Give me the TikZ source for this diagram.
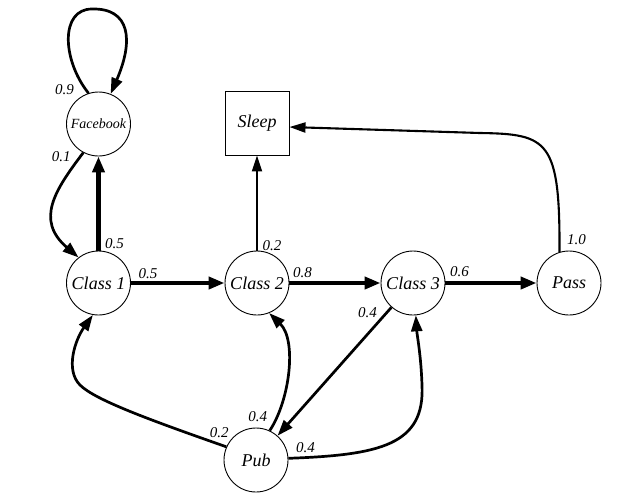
\documentclass[tikz,border=0pt]{standalone}
\usepackage{fontspec}
\setmainfont{Liberation Serif}
\usetikzlibrary{arrows.meta}
\tikzset{
  state/.style={circle, draw, line width=0.9pt, minimum size=64pt, inner sep=0pt, font=\fontsize{18}{20}\selectfont\itshape},
  boxstate/.style={rectangle, draw, line width=0.9pt, minimum width=64pt, minimum height=64pt, inner sep=0pt, font=\fontsize{18}{20}\selectfont\itshape},
  lbl/.style={inner sep=0pt, font=\fontsize{15}{17}\selectfont\itshape},
  thickedge/.style={line width=4.3pt, -{Triangle[length=16pt,width=12pt]}},
  curvedge/.style={line width=2.7pt, -{Triangle[length=16pt,width=11pt]}},
  thinedge/.style={line width=2.1pt, -{Triangle[length=16pt,width=10pt]}},
}
\begin{document}
\begin{tikzpicture}[x=1pt,y=-1pt]
\useasboundingbox (0,0) rectangle (618,499);
\node[state, font=\fontsize{14}{16}\selectfont\itshape] (fb) at (98.5,124) {Facebook};
\node[state] (c1) at (98.5,283) {Class 1};
\node[state] (c2) at (257,283) {Class 2};
\node[state] (c3) at (413,283) {Class 3};
\node[state] (pass) at (569,283) {Pass};
\node[state] (pub) at (256,460) {Pub};
\node[boxstate] (sleep) at (257,123) {Sleep};

% Facebook self loop
\draw[curvedge] (fb.108) node[lbl, shift={(-24,-4)}] {0.9}
  .. controls (62,60) and (60,9) .. (92,9)
  .. controls (130,8) and (134,40) .. (fb.68);
% Facebook -> Class 1
\draw[curvedge] (fb.242) node[lbl, shift={(-22,4)}] {0.1}
  .. controls (55,190) and (35,220) .. (c1.128);
% Class 1 -> Facebook
\draw[thickedge] (c1) -- (fb)
  node[lbl, at start, shift={(16,-7)}] {0.5};
% Class 1 -> Class 2
\draw[thickedge] (c1) -- (c2)
  node[lbl, at start, shift={(17,-9)}] {0.5};
% Class 2 -> Sleep
\draw[thinedge] (c2) -- (sleep)
  node[lbl, at start, shift={(15,-5)}] {0.2};
% Class 2 -> Class 3
\draw[thickedge] (c2) -- (c3)
  node[lbl, at start, shift={(13,-10)}] {0.8};
% Class 3 -> Pass
\draw[thickedge] (c3) -- (pass)
  node[lbl, at start, shift={(14,-11)}] {0.6};
% Pass -> Sleep
\draw[thinedge] (pass.107) node[lbl, shift={(17,-12)}] {1.0}
  .. controls (560,140) and (548,134) .. (480,133)
  -- ([yshift=-4pt]sleep.east);
% Class 3 -> Pub
\draw[curvedge] (c3) -- (pub)
  node[lbl, at start, shift={(-24,5)}] {0.4};
% Pub -> Class 1
\draw[curvedge] (pub.156) node[lbl, shift={(-7,-14)}] {0.2}
  .. controls (150,420) and (95,400) .. (80,385)
  .. controls (65,370) and (75,340) .. (c1.260);
% Pub -> Class 2
\draw[curvedge] (pub.65) node[lbl, shift={(-12,-14)}] {0.4}
  .. controls (290,400) and (297,340) .. (c2.292);
% Pub -> Class 3
\draw[curvedge] (pub.3) node[lbl, shift={(17,-11)}] {0.4}
  .. controls (380,455) and (425,445) .. (422,385)
  .. controls (421,355) and (417,335) .. (c3.275);
\end{tikzpicture}
\end{document}
